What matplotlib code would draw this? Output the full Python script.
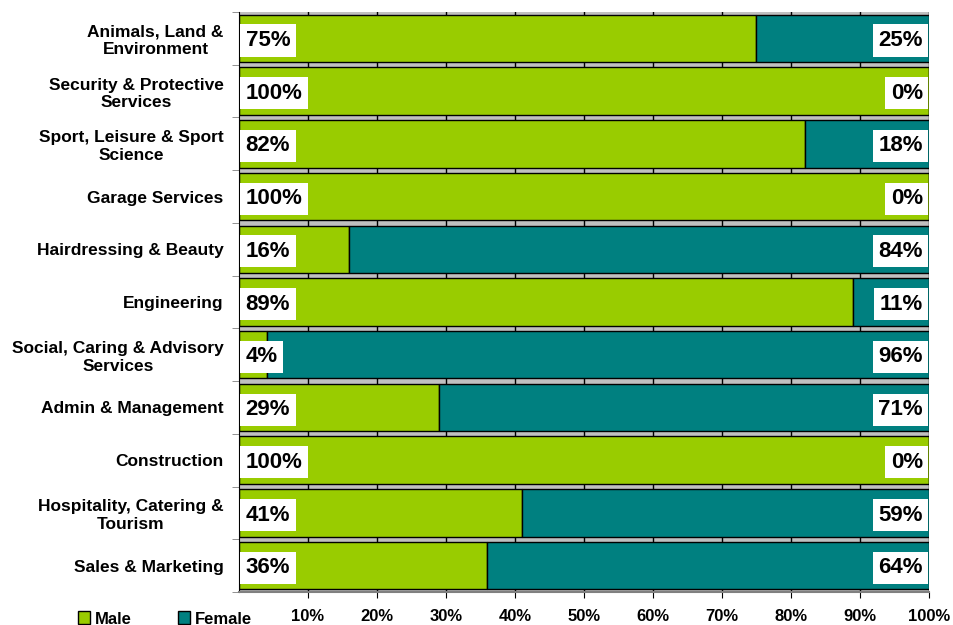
import numpy as np
import matplotlib.pyplot as plt
from matplotlib.patches import Patch

plt.rcParams['font.family'] = ['Liberation Sans', 'DejaVu Sans']
plt.rcParams['font.weight'] = 'bold'

categories = ["Animals, Land &\nEnvironment", "Security & Protective\nServices",
              "Sport, Leisure & Sport\nScience", "Garage Services",
              "Hairdressing & Beauty", "Engineering",
              "Social, Caring & Advisory\nServices", "Admin & Management",
              "Construction", "Hospitality, Catering &\nTourism", "Sales & Marketing"]
male = [75, 100, 82, 100, 16, 89, 4, 29, 100, 41, 36]
female = [25, 0, 18, 0, 84, 11, 96, 71, 0, 59, 64]
tick_labels = ["10%", "20%", "30%", "40%", "50%", "60%", "70%", "80%", "90%", "100%"]

green = '#99CC00'
teal = '#008080'

fig = plt.figure(figsize=(9.54, 6.25), dpi=100)
ax = fig.add_axes([239/954, 1-592/625, 690/954, 580/625])
ax.set_facecolor('#C0C0C0')

y = np.arange(len(categories))
ax.barh(y, male, height=0.9, color=green, edgecolor='black', linewidth=1, zorder=2)
ax.barh(y, female, left=male, height=0.9, color=teal, edgecolor='black', linewidth=1, zorder=2)

# white boxes behind the percentages
box = dict(facecolor='white', edgecolor='none', boxstyle='square,pad=0.25')
for i in range(len(categories)):
    ax.text(0.95, i + 0.04, f"{male[i]}%", ha='left', va='center', fontsize=16,
            fontweight='bold', bbox=box, zorder=3)
    ax.text(99.1, i + 0.04, f"{female[i]}%", ha='right', va='center', fontsize=16,
            fontweight='bold', bbox=box, zorder=3)

ax.set_xlim(0, 100)
ax.set_ylim(len(categories) - 0.5, -0.5)
ax.set_xticks(np.arange(10, 101, 10))
ax.set_xticklabels(tick_labels, fontsize=12, fontweight='bold')
ax.tick_params(axis='x', length=4, pad=8)
ax.set_yticks(y)
ax.set_yticklabels(categories, fontsize=12.5, fontweight='bold', multialignment='center')
ax.tick_params(axis='y', length=0, pad=11)
ax.set_yticks(np.arange(-0.5, len(categories)), minor=True)
ax.tick_params(axis='y', which='minor', length=5, color='gray')
ax.grid(axis='x', color='black', linewidth=1, zorder=0)
ax.set_axisbelow(True)
for s in ['top', 'right']:
    ax.spines[s].set_visible(False)
ax.spines['left'].set_color('black')
ax.spines['bottom'].set_color('gray')
ax.spines['bottom'].set_linewidth(1.5)

handles = [Patch(facecolor=green, edgecolor='black', label='Male'),
           Patch(facecolor=teal, edgecolor='black', label='Female')]
fig.legend(handles=handles, loc='center left', bbox_to_anchor=(78/954, 1-619/625),
           ncol=2, frameon=False, fontsize=12, handlelength=0.7, handleheight=0.8,
           handletextpad=0.3, columnspacing=2.8, borderaxespad=0, borderpad=0)

fig.savefig('out.png', dpi=100)
